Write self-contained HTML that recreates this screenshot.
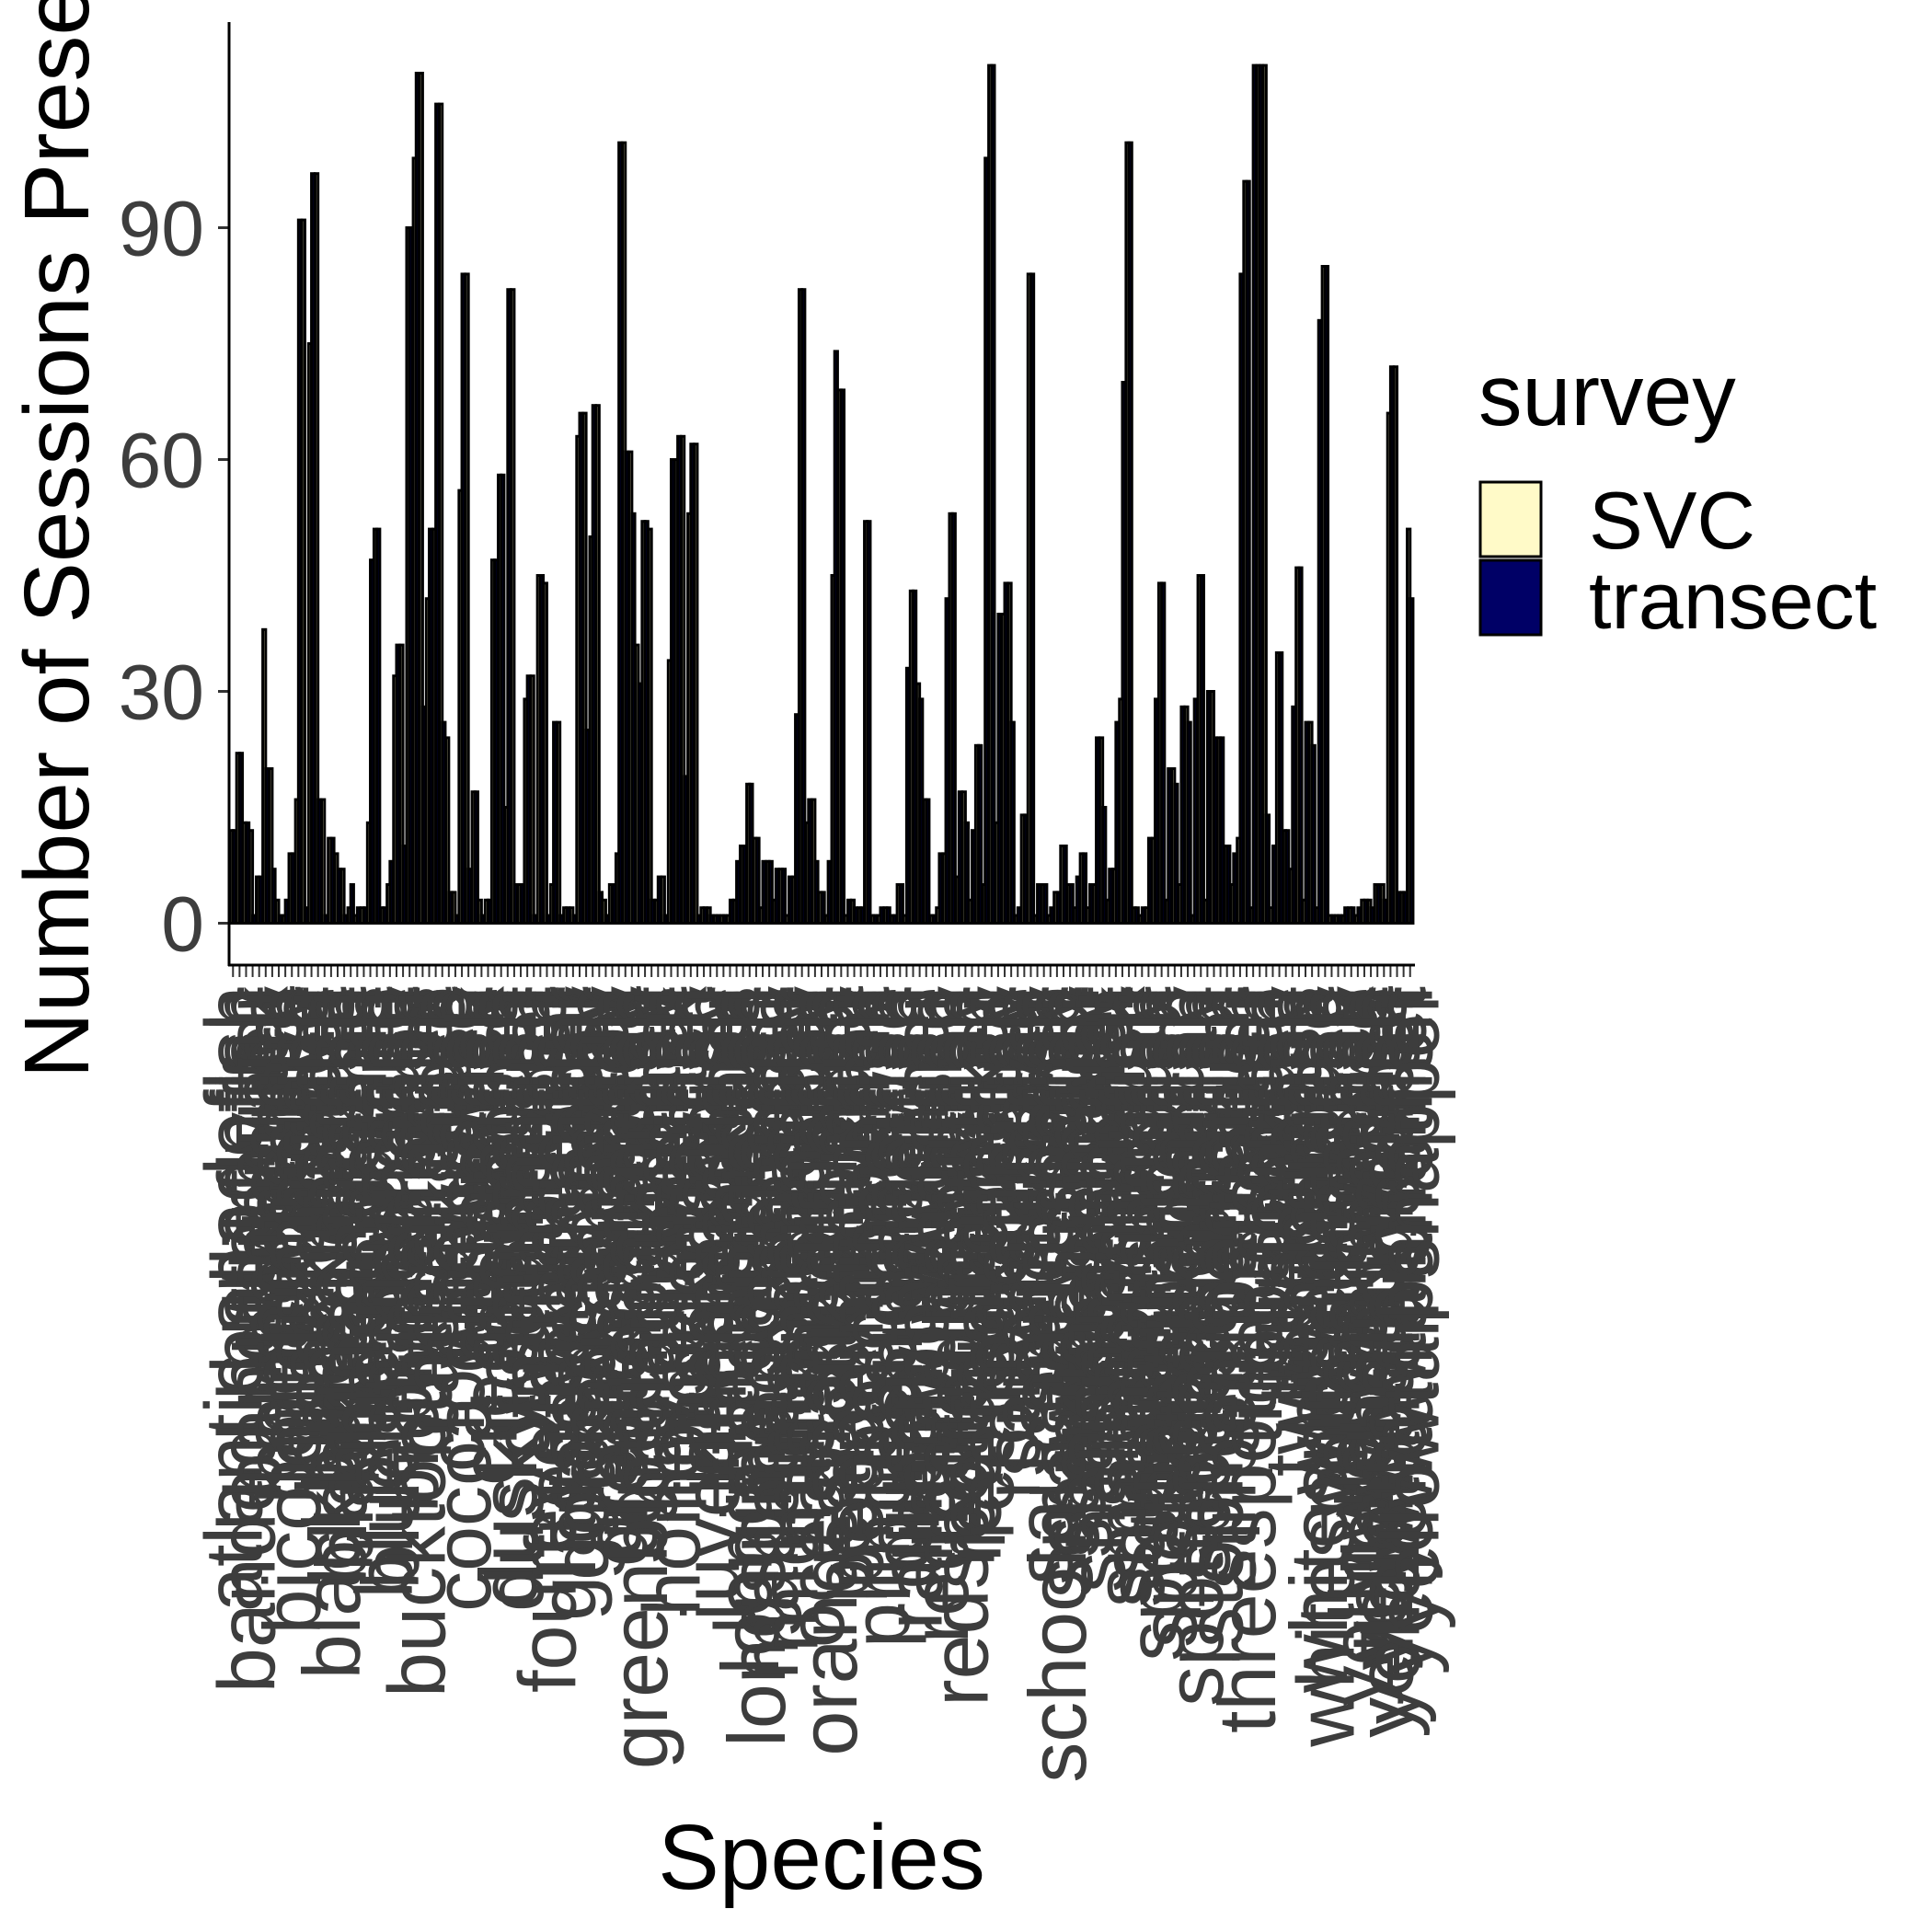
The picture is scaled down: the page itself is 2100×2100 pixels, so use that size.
<!DOCTYPE html>
<html><head><meta charset="utf-8"><style>
html,body{margin:0;padding:0;background:#fff;}
svg{display:block;}
text{font-family:"Liberation Sans",Arial,sans-serif;}
</style></head><body>
<svg id="chart" width="2100" height="2100" viewBox="0 0 2100 2100" xmlns="http://www.w3.org/2000/svg">
<rect width="2100" height="2100" fill="#fff"/>
<g id="bars"></g>
<g id="xticks"></g>
<g id="yticks"></g>
<line x1="249" y1="24" x2="249" y2="1050" stroke="#000" stroke-width="3"/>
<line x1="248" y1="1049" x2="1538" y2="1049" stroke="#000" stroke-width="3"/>
<text transform="translate(96,536) rotate(-90)" text-anchor="middle" font-size="100" fill="#000">Number of Sessions Present</text>
<text x="893" y="2053" text-anchor="middle" font-size="100" fill="#000">Species</text>
<g>
<text x="1607" y="462" font-size="95" fill="#000">survey</text>
<rect x="1609" y="524" width="66" height="81" fill="#FFFAC8" stroke="#000" stroke-width="3"/>
<rect x="1609" y="609" width="66" height="81" fill="#000066" stroke="#000" stroke-width="3"/>
<text x="1727" y="596" font-size="88" fill="#000">SVC</text>
<text x="1727" y="683" font-size="88" fill="#000">transect</text>
</g>
</svg>
<script>
const species = ["atlantic spadefish","balloonfish","banded butterflyfish","bar jack","barred hamlet","barracuda","beaugregory","bicolor damselfish","bigeye","black durgon","black grouper","black hamlet","black margate","blackbar soldierfish","blackcap basslet","blue chromis","blue hamlet","blue parrotfish","blue tang","bluehead wrasse","bluestriped grunt","bonefish","brown chromis","bucktooth parrotfish","butter hamlet","caesar grunt","cero","clown wrasse","cocoa damselfish","coney","cottonwick","creole fish","creole wrasse","dusky damselfish","dusky squirrelfish","dwarf herring","fairy basslet","flamefish","flounder","foureye butterflyfish","french angelfish","french grunt","glassy sweeper","goldentail moray","goldspot goby","graysby","gray angelfish","gray snapper","great barracuda","green moray","green razorfish","greenblotch parrotfish","harlequin bass","hogfish","honey damselfish","horse-eye jack","indigo hamlet","jackknife fish","jolthead porgy","juvenile parrotfish","lane snapper","lizardfish","longfin damselfish","longjaw squirrelfish","longspine squirrelfish","mahogany snapper","margate","masked goby","midnight parrotfish","mutton snapper","nassau grouper","ocean surgeonfish","orange filefish","orangespotted filefish","palometa","peacock flounder","peppermint goby","porcupinefish","porkfish","princess parrotfish","puddingwife","queen angelfish","queen parrotfish","queen triggerfish","red hind","redband parrotfish","redlip blenny","redspotted hawkfish","redtail parrotfish","reef butterflyfish","reef squirrelfish","rock beauty","rock hind","rosy razorfish","round stingray","sailors choice","sand diver","sand tilefish","saucereye porgy","schoolmaster snapper","scrawled cowfish","scrawled filefish","sergeant major","sharknose goby","sharpnose puffer","shy hamlet","slender filefish","slippery dick","smallmouth grunt","smooth trunkfish","southern stingray","spanish grunt","spanish hogfish","spotfin butterflyfish","spotfin hogfish","spotted drum","spotted goatfish","spotted moray","spotted scorpionfish","spotted trunkfish","squirrelfish","stoplight parrotfish","striped grunt","striped parrotfish","tiger grouper","tobaccofish","tomtate","threespot damselfish","trumpetfish","trunkfish","web burrfish","whitespotted filefish","white grunt","yellow goatfish","yellow stingray","yellowcheek wrasse","yellowfin mojarra","yellowhead jawfish","yellowhead wrasse","yellowtail damselfish","yellowtail hamlet","yellowtail parrotfish","yellowtail snapper","bandtail puffer","bermuda chub","blackear wrasse","blue angelfish","bridled goby","chalk bass","cherubfish","dog snapper","doctorfish","glasseye snapper","greater soapfish","hairy blenny","highhat","jawfish","king mackerel","lantern bass","mackerel scad","neon goby","pearly razorfish","permit","rainbow parrotfish","rainbow runner","rainbow wrasse","redfin parrotfish","reef croaker","sand perch","scamp","sharksucker","spotlight parrotfish","tarpon","tattler","tube blenny","twinspot bass","white margate","whitespotted toadfish","wrasse blenny","yellow jack","yellowmouth grouper"].sort();
const svcValues = [12,22,13,12,6,38,20,3,1,9,16,91,75,97,16,11,9,7,2,1,2,13,51,2,5,32,36,90,99,110,42,51,106,24,4,56,84,17,3,3,47,58,15,82,5,29,
32,45,44,5,26,2,2,63,66,50,67,3,5,9,101,61,36,52,51,3,6,34,60,63,53,62,2,2,1,1,1,3,10,18,11,2,8,3,7,1,6,82,13,16,4,1,
45,69,1,3,2,52,1,1,2,1,5,1,43,31,16,1,2,9,53,6,17,3,23,5,111,13,40,44,1,14,84,1,5,1,4,10,5,2,9,2,5,24,3,7,29,101,
2,1,2,11,44,3,20,5,28,1,45,3,30,24,10,5,11,96,2,111,111,2,35,12,7,46,3,26,2,85,1,1,1,2,1,3,3,5,5,66,72,4,51];
const transectValues = [12,22,13,1,6,20,7,1,3,9,91,2,97,16,1,11,7,1,5,2,2,47,51,2,8,36,10,90,110,28,51,106,26,4,1,84,7,17,1,3,47,58,82,5,5,32,
1,45,1,26,1,2,1,66,25,67,4,1,5,101,61,53,31,52,3,6,1,60,63,19,62,1,2,1,1,1,3,8,10,18,11,8,8,7,7,6,27,82,16,8,4,8,
74,69,3,2,2,52,1,2,2,1,5,33,43,29,16,1,9,42,53,17,13,12,23,99,111,40,44,26,2,14,84,5,5,2,4,10,5,6,9,5,24,15,7,26,70,101,
2,2,11,29,44,20,18,28,26,29,45,30,24,24,10,9,84,96,111,111,14,10,35,12,28,46,26,23,78,85,1,1,2,2,2,3,2,5,3,72,4,4,42];
const yTickValues = [0,30,60,90];
const yTickLabels = ["0","30","60","90"];

const NS = "http://www.w3.org/2000/svg";
const X0 = 249, X1 = 1537, Y0 = 1003.5, PXU = 8.4;
const N = species.length;
const step = (X1 - X0) / (N - 1 + 1.2);
function xCenter(i){ return X0 + step * (0.6 + i); }
function yPos(v){ return Y0 - v * PXU; }
function mk(tag, attrs){ const e = document.createElementNS(NS, tag); for (const k in attrs) e.setAttribute(k, attrs[k]); return e; }

const bars = document.getElementById('bars');
const bw = step * 0.45;
for (let i = 0; i < N; i++) {
  const cx = xCenter(i);
  const sv = svcValues[i] || 0, tv = transectValues[i] || 0;
  const r1 = mk('rect', {x: cx - bw, y: yPos(sv), width: bw, height: Y0 - yPos(sv), fill: '#FFFAC8', stroke: '#000', 'stroke-width': 3});
  
  
  bars.appendChild(r1);
  const r2 = mk('rect', {x: cx, y: yPos(tv), width: bw, height: Y0 - yPos(tv), fill: '#000066', stroke: '#000', 'stroke-width': 3});
  
  
  bars.appendChild(r2);
}

const xt = document.getElementById('xticks');
for (let i = 0; i < N; i++) {
  const cx = xCenter(i);
  const t = mk('line', {x1: cx, y1: 1050, x2: cx, y2: 1062, stroke: '#333', 'stroke-width': 2});
  
  
  xt.appendChild(t);
  const lb = mk('text', {transform: 'translate(' + (cx + 31) + ',1072) rotate(-90)', 'text-anchor': 'end', 'font-size': 88, fill: '#3d3d3d'});
  lb.textContent = species[i];
  
  
  xt.appendChild(lb);
}

const yt = document.getElementById('yticks');
for (let i = 0; i < yTickValues.length; i++) {
  const y = yPos(yTickValues[i]);
  const t = mk('line', {x1: 237, y1: y, x2: 249, y2: y, stroke: '#333', 'stroke-width': 3});
  
  
  yt.appendChild(t);
  const lb = mk('text', {x: 222, y: y + 30, 'text-anchor': 'end', 'font-size': 84, fill: '#3d3d3d'});
  lb.textContent = yTickLabels[i];
  
  
  yt.appendChild(lb);
}
</script>
</body></html>
